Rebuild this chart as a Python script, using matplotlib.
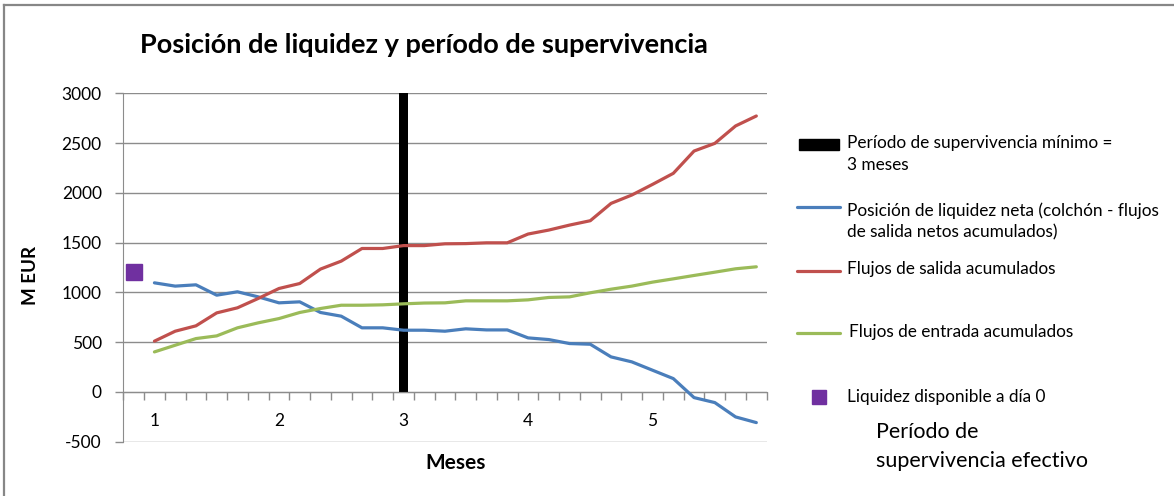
import matplotlib
matplotlib.use("Agg")
import matplotlib.pyplot as plt
from matplotlib.lines import Line2D
from matplotlib.patches import Rectangle
from matplotlib.ticker import FixedLocator, NullFormatter

# ---------------- data ----------------
month_labels = ['1', '2', '3', '4', '5']
periods_per_month = 6
day0_liquidity = [1200]
net_position = [1096, 1063, 1076, 972, 1006, 955, 895, 905, 798, 761, 644, 644, 620, 620, 610,
                634, 623, 623, 543, 526, 486, 479, 352, 302, 218, 134, -57, -107, -251, -308]
outflows_cum = [510, 610, 664, 794, 845, 939, 1039, 1089, 1234, 1314, 1441, 1441, 1470, 1470, 1488,
                1490, 1498, 1498, 1586, 1626, 1676, 1720, 1894, 1978, 2085, 2196, 2420, 2497, 2672, 2772]
inflows_cum = [402, 469, 536, 563, 644, 694, 737, 798, 838, 871, 871, 875, 885, 893, 895,
               915, 915, 915, 925, 949, 955, 996, 1032, 1063, 1103, 1136, 1170, 1203, 1237, 1257]
min_survival_month = 3
min_survival_bar = [3000]

title = 'Posición de liquidez y período de supervivencia'
legend_labels = ['Período de supervivencia mínimo =\n3 meses',
                 'Posición de liquidez neta (colchón - flujos\nde salida netos acumulados)',
                 'Flujos de salida acumulados',
                 'Flujos de entrada acumulados',
                 'Liquidez disponible a día 0']
effective_label = 'Período de\nsupervivencia efectivo'

# ---------------- style ----------------
FONT = 'Lato'
plt.rcParams['font.family'] = [FONT, 'DejaVu Sans']
plt.rcParams['axes.unicode_minus'] = False
BLUE = '#4A7EBB'
RED = '#C0504D'
GREEN = '#9BBB59'
PURPLE = '#7030A0'
GRAY = '#8C8C8C'

W, H = 1174, 496
fig = plt.figure(figsize=(W / 100, H / 100), dpi=100)


def fx(x):
    return x / W


def fy(y):
    return 1 - y / H


ax = fig.add_axes([fx(123.3), fy(441.7), fx(766.7) - fx(123.3), fy(93.3) - fy(441.7)])

n = len(net_position)
xs = list(range(1, n + 1))
ax.plot(xs, net_position, color=BLUE, lw=2.3, solid_capstyle='round', zorder=3)
ax.plot(xs, outflows_cum, color=RED, lw=2.3, solid_capstyle='round', zorder=3)
ax.plot(xs, inflows_cum, color=GREEN, lw=2.3, solid_capstyle='round', zorder=3)
ax.plot([0], day0_liquidity, marker='s', ms=12, color=PURPLE, ls='none', zorder=4)
bar_x = 1 + (min_survival_month - 1) * periods_per_month
ax.bar([bar_x], min_survival_bar, width=0.4, color='black', zorder=2)

ax.set_xlim(-0.5, n + 0.5)
ax.set_ylim(-500, 3000)
ax.set_yticks(range(-500, 3001, 500))
ax.yaxis.grid(True, color=GRAY, lw=1.0)
ax.set_axisbelow(True)

major_pos = [1 + i * periods_per_month for i in range(len(month_labels))]
ax.set_xticks(major_pos)
ax.set_xticklabels(month_labels)
ax.xaxis.set_minor_locator(FixedLocator([k - 0.5 for k in range(0, n + 2)]))
ax.xaxis.set_minor_formatter(NullFormatter())
ax.tick_params(axis='x', which='major', length=0, pad=15, labelsize=12.5, colors='#000000')
ax.tick_params(axis='x', which='minor', length=5.5, width=1, color=GRAY, direction='out')
ax.tick_params(axis='y', length=6, width=1, color=GRAY, pad=9.5, labelsize=12.5, labelcolor='#000000')

for s in ['top', 'right']:
    ax.spines[s].set_visible(False)
ax.spines['bottom'].set_position(('data', 0))
ax.spines['bottom'].set_color(GRAY)
ax.spines['left'].set_color(GRAY)

# axis labels
fig.text(fx(30), fy(275), 'M EUR', rotation=90, ha='center', va='center', fontsize=13.5, fontweight='bold')
fig.text(fx(456), fy(463), 'Meses', ha='center', va='center', fontsize=15, fontweight='bold')

# title
fig.text(fx(423.5), fy(45), title, ha='center', va='center', fontsize=19.5, fontweight='bold')

# figure frame (left and top edges)
fig.add_artist(Line2D([fx(3.5), fx(3.5)], [0, fy(4.5)], color='#878787', lw=1.6, transform=fig.transFigure))
fig.add_artist(Line2D([fx(3.5), 1], [fy(4.5), fy(4.5)], color='#878787', lw=1.6, transform=fig.transFigure))

# legend (manual)
LFS = 12.4
fig.add_artist(Rectangle((fx(799), fy(150)), fx(839) - fx(799), fy(139) - fy(150), color='black',
                         transform=fig.transFigure))
fig.text(fx(847), fy(143), legend_labels[0].split('\n')[0], ha='left', va='center', fontsize=LFS)
fig.text(fx(847), fy(165), legend_labels[0].split('\n')[1], ha='left', va='center', fontsize=LFS)

for (yl, col) in [(207, BLUE), (271, RED), (333, GREEN)]:
    fig.add_artist(Line2D([fx(797), fx(840)], [fy(yl), fy(yl)], color=col, lw=2.3,
                          solid_capstyle='round', transform=fig.transFigure))
fig.text(fx(847), fy(211), legend_labels[1].split('\n')[0], ha='left', va='center', fontsize=LFS)
fig.text(fx(847), fy(232), legend_labels[1].split('\n')[1], ha='left', va='center', fontsize=LFS)
fig.text(fx(847), fy(269), legend_labels[2], ha='left', va='center', fontsize=LFS)
fig.text(fx(849), fy(332), legend_labels[3], ha='left', va='center', fontsize=LFS)
fig.add_artist(Line2D([fx(819)], [fy(397)], marker='s', ms=10, color=PURPLE, ls='none',
                      transform=fig.transFigure))
fig.text(fx(847), fy(397), legend_labels[4], ha='left', va='center', fontsize=LFS)

fig.text(fx(876), fy(432), effective_label.split('\n')[0], ha='left', va='center', fontsize=15.5)
fig.text(fx(876), fy(461), effective_label.split('\n')[1], ha='left', va='center', fontsize=15.5)

fig.savefig('out.png', dpi=100)
